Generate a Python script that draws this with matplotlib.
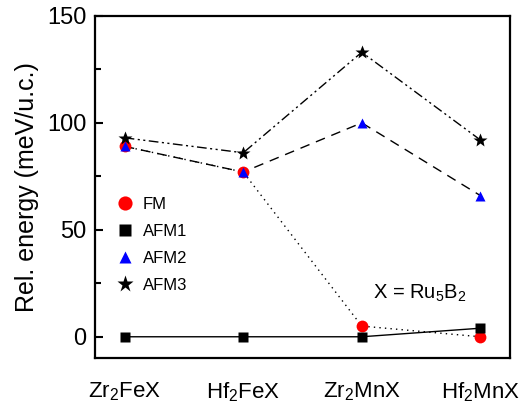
import matplotlib
matplotlib.use("Agg")
import matplotlib.pyplot as plt
from matplotlib.ticker import MultipleLocator

plt.rcParams["font.family"] = ["Liberation Sans", "DejaVu Sans"]
plt.rcParams["mathtext.fontset"] = "custom"
plt.rcParams["mathtext.rm"] = "Liberation Sans"

compounds = ["Zr$_2$FeX", "Hf$_2$FeX", "Zr$_2$MnX", "Hf$_2$MnX"]
fm = [89, 77, 5, 0]
afm1 = [0, 0, 0, 4]
afm2 = [89, 77, 100, 66]
afm3 = [93, 86, 133, 92]

fig = plt.figure(figsize=(5.22, 4.07), dpi=100)
ax = fig.add_axes([0.182, 0.12, 0.795, 0.841])

x = range(len(compounds))
ax.plot(x, fm, color="black", lw=1, ls=(0, (1, 3)), zorder=1)
ax.plot(x, afm1, color="black", lw=1, ls="-", zorder=1)
ax.plot(x, afm2, color="black", lw=1, ls=(0, (7, 5)), zorder=1)
ax.plot(x, afm3, color="black", lw=1, ls=(0, (7, 2.5, 1.5, 2.5, 1.5, 2.5)), zorder=1)

ax.plot(x, fm, "o", color="red", ms=8.5, mec="none", zorder=2, label="FM")
ax.plot(x, afm1, "s", color="black", ms=7.5, mec="none", zorder=3, label="AFM1")
ax.plot(x, afm2, "^", color="blue", ms=7.5, mec="none", zorder=4, label="AFM2")
ax.plot(x, afm3, "*", color="black", ms=10.5, mec="none", zorder=5, label="AFM3")

ax.set_xlim(-0.25, 3.25)
ax.set_ylim(-10, 150)
ax.set_xticks(list(x))
ax.set_xticklabels(compounds, fontsize=16)
ax.tick_params(axis="x", length=0, pad=16)
ax.yaxis.set_major_locator(MultipleLocator(50))
ax.yaxis.set_minor_locator(MultipleLocator(25))
ax.tick_params(axis="y", which="major", direction="in", length=6, width=1.5, labelsize=17, pad=6)
ax.tick_params(axis="y", which="minor", direction="in", length=4, width=1.5)
ax.set_ylabel("Rel. energy (meV/u.c.)", fontsize=18, labelpad=6)
for s in ax.spines.values():
    s.set_linewidth(1.6)

ax.legend(loc="center left", bbox_to_anchor=(0.015, 0.33), frameon=False, fontsize=12,
          handlelength=1.0, handletextpad=0.6, labelspacing=0.72, markerscale=1.2)
ax.text(2.49, 20.5, "X = Ru$_5$B$_2$", fontsize=14.5, ha="center", va="center")

fig.savefig("out.png", dpi=100)
